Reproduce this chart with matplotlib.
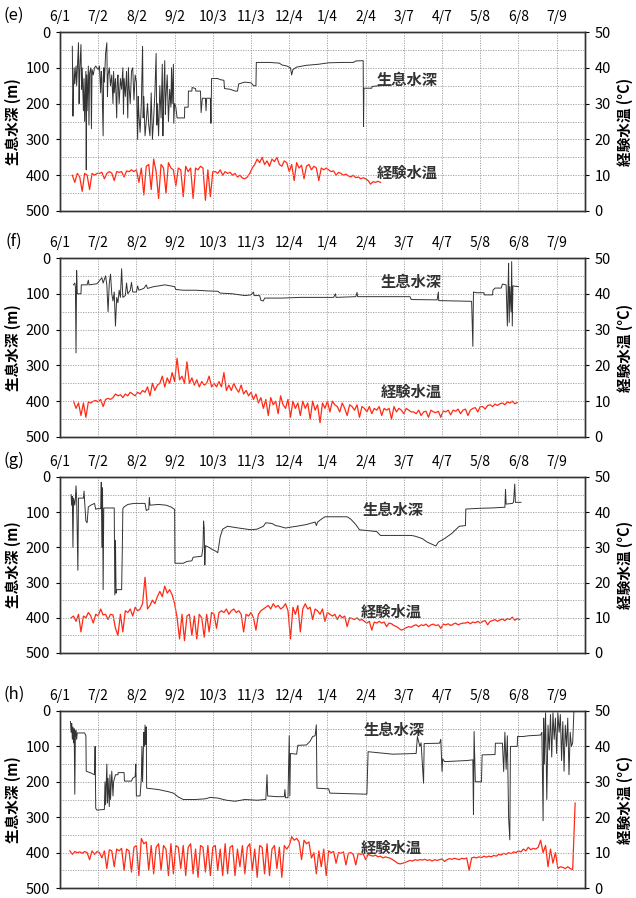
# -*- coding: utf-8 -*-
"""Habitat depth and experienced water temperature, panels (e)-(h)."""
import numpy as np
import matplotlib
matplotlib.use("Agg")
import matplotlib.pyplot as plt

plt.rcParams["font.family"] = ["Noto Sans CJK JP", "DejaVu Sans"]

# ------------------------------------------------------------
# Axis definitions (day 0 = 6/1, ticks every 31 days)
# ------------------------------------------------------------
TICK_DAYS = [0, 31, 62, 93, 124, 155, 186, 217, 248, 279, 310, 341, 372, 403]
TICK_LABELS = ["6/1", "7/2", "8/2", "9/2", "10/3", "11/3", "12/4",
               "1/4", "2/4", "3/7", "4/7", "5/8", "6/8", "7/9"]
X_MAX = 426
DEPTH_TICKS = [0, 100, 200, 300, 400, 500]
TEMP_TICKS = [0, 10, 20, 30, 40, 50]

# ------------------------------------------------------------
# (e) depth (day, m) and temperature (every 2 days from start)
# ------------------------------------------------------------
E_DEPTH = [
    (10, 40), (10.5, 235), (11, 150), (11.5, 100), (12, 145), (13, 95), (13.5, 150),
    (14, 110), (15, 30), (15.5, 200), (16, 110), (17, 35), (17.5, 160), (18, 100),
    (19, 220), (19.5, 130), (20, 250), (21, 110), (21.3, 385), (21.6, 120), (22, 220),
    (23, 95), (23.5, 260), (24, 115), (25, 100), (25.5, 270), (26, 105), (27, 120),
    (28, 100), (29, 95), (30, 100), (31, 105), (32, 95), (33, 170), (33.5, 110),
    (34, 130), (35, 290), (35.5, 100), (36, 140), (37, 60), (38, 30), (38.5, 180),
    (39, 120), (40, 100), (41, 150), (42, 120), (43, 200), (43.5, 110), (44, 170),
    (45, 130), (46, 240), (46.5, 140), (47, 120), (48, 200), (49, 130), (50, 160),
    (51, 100), (51.5, 230), (52, 130), (53, 180), (54, 110), (55, 240), (55.5, 100),
    (56, 150), (57, 200), (58, 110), (59, 100), (60, 190), (61, 120), (62, 140),
    (63, 300), (63.5, 180), (64, 230), (65, 280), (66, 200), (67, 40), (67.5, 240),
    (68, 180), (69, 290), (70, 250), (71, 200), (72, 260), (73, 290), (74, 170),
    (75, 300), (76, 240), (77, 170), (78, 60), (78.5, 260), (79, 200), (80, 290),
    (81, 150), (82, 240), (83, 90), (83.5, 290), (84, 200), (85, 80), (85.5, 230),
    (86, 180), (87, 120), (88, 250), (89, 160), (90, 210), (90.5, 100), (91, 200),
    (92, 90), (92.3, 255), (93, 200), (94, 210), (95, 240), (101, 240), (101.2, 210),
    (104, 210), (104.2, 165), (107, 165), (107.2, 155), (110, 158), (110.2, 165),
    (114, 165), (114.5, 225), (115.5, 185), (118, 185), (118.5, 220), (119, 185),
    (122, 185), (122.5, 255), (123, 130), (128, 130), (130, 133), (133, 135),
    (133.5, 158), (138, 160), (142, 165), (144, 165), (145, 145), (150, 140),
    (155, 142), (157, 150), (159, 150), (159.3, 85), (170, 85), (178, 87), (180, 92),
    (184, 95), (187, 100), (188, 120), (189, 105), (192, 98), (200, 93), (210, 90),
    (218, 86), (230, 85), (238, 85), (240, 81), (246, 80), (246.3, 264), (246.6, 157),
    (253, 157), (253.3, 152), (260, 150),
]
E_TEMP_START = 10
E_TEMP = [
    10, 8, 10.5, 9.5, 5.5, 10.5, 10, 6, 10.5, 10, 10.5,
    10.5, 10.8, 9, 10.5, 11, 10.6, 8.5, 11, 10.8, 11, 9.5, 11.2, 11, 11.5, 11,
    11.5, 8, 12, 4.5, 12.5, 13, 6, 14.5, 11, 3.5, 13, 12, 5, 13.5, 12, 11.5, 7,
    12, 11.5, 4, 12.5, 11, 12, 3.5, 12, 11.5, 12.5, 12, 3, 11.5, 4, 11,
    11, 10.5, 11.5, 10, 11, 10.5, 10.8, 10, 10.5, 9.5, 10, 9.2, 9, 9.5, 10.5,
    12, 13, 14.5, 13.5, 15, 13, 14, 12.5, 14.5, 13.8, 15, 13, 12.5, 14, 13.5, 11,
    13, 8.5, 13.5, 12, 12.8, 9, 12.5, 13, 11.5, 12.5, 12, 8.5, 12, 11.5, 12,
    11.5, 11, 11.2, 10, 10.8, 10.5, 10, 10.3, 9.8, 9.5, 10, 9.3, 9.5, 9, 9.3,
    9, 8.5, 7.5, 8.2, 8, 8.3, 8,
]

# ------------------------------------------------------------
# (f)
# ------------------------------------------------------------
F_DEPTH = [
    (11, 75), (12, 70), (12.5, 80), (13, 265), (13.5, 35), (14, 100), (17, 100),
    (17.3, 75), (22, 75), (23, 62), (23.5, 75), (30, 72), (34, 55), (35, 70), (37, 50),
    (38, 75), (39, 150), (40, 70), (41, 45), (42, 100), (43, 120), (44, 95), (45, 190),
    (46, 110), (47, 125), (48, 90), (49, 110), (50, 30), (51, 110), (53, 105), (54, 70),
    (55, 100), (57, 90), (58, 68), (59, 95), (62, 95), (63, 78), (64, 90), (68, 85),
    (70, 75), (71, 85), (76, 80), (80, 78), (85, 75), (90, 78), (93, 80), (94, 88),
    (100, 90), (110, 90), (120, 92), (128, 93), (130, 98), (140, 100), (150, 105),
    (155, 103), (157, 95), (157.5, 105), (162, 105), (163, 118), (165, 120), (166, 112),
    (180, 112), (195, 110), (222, 110), (223.5, 100), (224, 110), (240, 108), (241, 96),
    (241.5, 108), (284, 108), (285, 116), (306, 117), (307, 95), (307.3, 119), (334, 121),
    (335, 247), (335.5, 95), (338, 97), (344, 97), (344.3, 103), (351, 103), (351.3, 90),
    (353, 84), (358, 84), (359, 73), (362, 75), (363, 190), (363.5, 100), (364, 15),
    (364.5, 180), (365, 80), (366, 150), (366.5, 10), (367, 190), (367.5, 78), (372, 80),
]
F_TEMP_START = 11
F_TEMP = [
    10, 8, 9.5, 6, 9.5, 5.5, 9.8, 9.5, 10, 10.2, 9.8, 10.5, 8.5, 10.5, 10.8, 10.5, 11, 12,
    11.5, 11.8, 11, 12, 11.5, 12.5, 12, 11.5, 12.5, 12, 13, 12.5, 14, 11.5, 15, 13, 14.5,
    15, 17, 14, 16.5, 15, 18, 15.5, 22, 16, 17, 15, 21, 15, 16.5, 14.5, 16, 14, 15.5,
    14.5, 15, 17, 14,
    15, 14, 15.5, 14, 18, 13, 14.5, 13, 15, 13.5, 12.5, 14.5, 12, 13, 11.5, 12.5, 10.5, 12,
    9.5, 11, 8, 10.5, 6, 11, 9, 10, 6.5, 11.5, 9, 8, 10.5, 5.5, 10, 8, 9.5, 6,
    10, 8, 9.5, 5, 10, 7.5, 9, 4, 9.5, 8, 10, 7, 10, 9,
    8.5, 7, 9.5, 8, 6, 9, 8.5, 7.5, 9, 5.5, 8.5, 8, 7, 8.5, 6.5, 8, 7.5, 8.5, 6, 8,
    7.5, 8, 5, 8.5, 7, 8, 7.5, 6.5, 8, 7.5, 7,
    7, 6.5, 7.5, 6, 7, 7.2, 5.5, 7.5, 7, 6.8, 7.2, 5.5, 7.3, 7, 7.5, 6.2, 7.5, 7.2, 7.8,
    6.5, 7.5, 7.8, 6, 7.5, 8,
    8.2, 7, 8.5, 8.5, 7.8, 8.8, 9, 8.5, 9.2, 8.8, 9.3, 9.5, 9, 9.8, 9.5, 10, 9.3, 9.6,
]

# ------------------------------------------------------------
# (g)
# ------------------------------------------------------------
G_DEPTH = [
    (9, 50), (9.5, 80), (10, 55), (10.5, 200), (11, 60), (12, 80), (12.5, 60), (13, 25),
    (13.5, 60), (14.5, 265), (15, 60), (19, 60), (19.5, 40), (20, 70), (21, 125),
    (22, 130), (23, 85), (25, 80), (28, 75), (29, 92), (30, 90), (33, 90), (33.5, 15),
    (34, 200), (34.5, 30), (35, 320), (35.5, 88), (44, 88), (44.5, 335), (45, 180),
    (45.5, 330), (46, 320), (50, 320), (50.5, 220), (51, 90), (52, 85), (55, 78),
    (60, 75), (69, 75), (70, 95), (72, 92), (72.5, 58), (73, 80), (80, 78), (86, 80),
    (90, 85), (93, 92), (93.3, 245), (100, 245), (103, 240), (107, 238), (108, 228),
    (115, 225), (116, 200), (116.5, 125), (117, 145), (117.5, 250), (118, 195),
    (121, 200), (123, 205), (126, 210), (128, 215), (130, 170), (132, 148), (136, 140),
    (145, 145), (155, 150), (160, 148), (165, 140), (167, 130), (172, 132), (175, 138),
    (178, 140), (183, 145), (188, 142), (192, 140), (200, 135), (205, 130), (207, 128),
    (208, 138), (209, 128), (212, 120), (215, 113), (233, 113), (236, 120), (240, 135),
    (243, 150), (257, 155), (260, 166), (285, 166), (288, 168), (294, 175), (298, 185),
    (305, 196), (307, 185), (312, 175), (318, 160), (324, 140), (329, 138), (329.3, 91),
    (340, 89), (350, 88), (361, 86), (361.5, 35), (362, 77), (367, 75), (368, 72),
    (369, 20), (369.5, 72), (374, 72),
]
G_TEMP_START = 9
G_TEMP = [
    10, 10.5, 9, 11, 6, 10.5, 10, 11.5, 10.5, 8.5, 11, 10.5, 12.5, 10.8, 11, 9.5, 11,
    10.8, 7,
    5, 11, 6, 12, 11.5, 12.5, 10.5, 13, 12, 12.5, 14, 21.5, 12.5, 13.5, 15, 14, 16, 17.5,
    16, 19, 17, 18, 16.5, 14,
    10, 4, 11, 3.5, 10.5, 11, 5, 10.5, 4, 11, 10, 4.5, 11, 6, 11.5, 11, 7, 11.5,
    12, 11.5, 12.5, 11, 12, 12.5, 11.5, 12, 11, 6, 11, 10.5, 11.5, 10, 6.5, 11, 12, 12.5,
    13, 13.5, 12.5, 14, 13, 13.5, 12.5, 13, 14, 12, 4, 13, 11, 13.5, 6, 12.5, 14,
    12.5, 13, 9.5, 12.5, 12, 11, 12.5, 9, 11.5, 11, 10.5, 11, 9.5, 10.8, 10, 10.5, 7.5,
    10, 9.8, 9.5, 10, 9.3,
    9.5, 9, 8.5, 9, 6.5, 8.8, 8.5, 9, 8.5, 8.8, 7.5, 8.5, 8.3, 7.8, 7.5, 7, 6.5, 6.8,
    7.2, 7.5, 7.3,
    7.8, 8, 7.5, 8, 7.8, 8.2, 7.5, 8, 8.2, 7.8, 8, 7, 8.2, 8, 8.3, 7.8, 8.2, 8.5, 8,
    8.3, 8.5,
    8.5, 8.8, 8.3, 8.8, 8.6, 9, 8.5, 9, 9.2, 8, 9, 9.2, 9.5, 9, 9.4, 9.6, 9.2, 9.8, 9.5,
    10.2, 9.3, 9.8, 9.5,
]

# ------------------------------------------------------------
# (h)
# ------------------------------------------------------------
H_DEPTH = [
    (8.5, 30), (9, 60), (9.5, 35), (10, 80), (10.5, 45), (11, 90), (11.5, 50), (12, 235),
    (12.5, 60), (13, 55), (13.5, 80), (14, 62), (20, 62), (21, 70), (21.3, 170),
    (25, 175), (28, 180), (28.5, 100), (29, 275), (30, 280), (36, 278), (36.5, 200),
    (37, 265), (38, 150), (38.5, 260), (39, 190), (40, 270), (40.5, 180), (41, 250),
    (42, 170), (43, 240), (43.5, 200), (45, 180), (47, 180), (47.2, 174), (52, 174),
    (52.3, 198), (58, 198), (59, 190), (61, 185), (61.5, 150), (62, 240), (65, 240),
    (66, 190), (66.5, 100), (67, 200), (68, 60), (68.5, 100), (69, 40), (69.5, 95),
    (70, 45), (70.3, 218), (80, 222), (88, 228), (92, 232), (96, 243), (100, 250),
    (110, 250), (118, 248), (122, 244), (128, 246), (135, 252), (142, 255), (150, 250),
    (160, 252), (167, 250), (168, 180), (168.5, 240), (176, 242), (182, 242),
    (182.5, 222), (183, 245), (185, 245), (186, 70), (186.5, 240), (187, 120), (192, 122),
    (193, 97), (200, 96), (203, 85), (205, 72), (207, 70), (208, 39), (208.5, 218),
    (218, 220), (219, 232), (249, 235), (250, 115), (270, 122), (289, 120), (290, 72),
    (292, 100), (293, 90), (295, 204), (295.5, 92), (308, 91), (309, 80), (310, 171),
    (310.5, 135), (312, 143), (330, 140), (335, 138), (335.5, 293), (336, 58), (337, 200),
    (342, 200), (342.5, 124), (353, 123), (353.3, 91), (359, 91), (360, 171), (361, 60),
    (362, 165), (363, 70), (364, 300), (365, 364), (365.5, 100), (367, 100), (371, 100),
    (371.3, 72), (376, 72), (380, 70), (390, 68), (391, 60), (392, 310), (392.5, 20),
    (393, 150), (394, 5), (395, 250), (396, 40), (397, 110), (398, 10), (399, 130),
    (400, 5), (401, 80), (402, 20), (403, 120), (404, 5), (405, 60), (406, 10),
    (407, 140), (408, 30), (409, 170), (410, 40), (411, 100), (412, 20), (413, 180),
    (414, 60), (415, 100), (416, 90), (417, 0),
]
H_TEMP_START = 8
H_TEMP = [
    10.5, 9.5, 10.3, 10, 10.2, 9.8, 10.3, 10, 8, 10.5, 9.5, 10.3,
    10, 8.5, 10.5, 5.5, 10.8, 10.5, 6, 11, 10.5, 11.2, 5, 11, 10.5, 4.5, 11.5, 12, 3.5,
    14, 12.5, 13, 5, 12, 4, 11.5, 12.5, 5, 12,
    11, 3.5, 12.5, 4, 12, 11.5, 5.5, 12, 3.5, 11.5,
    12.5, 4, 11, 3, 12, 11.5, 4.5, 12, 3.5, 11.5,
    12, 5, 11, 3.5, 12.5, 4, 11.5, 12, 3.5, 11,
    6, 12, 4, 11.5, 12.5, 5, 11, 3, 12, 11.5,
    4, 12.5, 3.5, 11, 12, 5.5, 11.5, 3, 12, 11, 12,
    14.5, 13.5, 14, 13, 8, 13.5, 12.5, 13, 8.5,
    10, 4, 10.5, 6, 11, 3.5, 10.5,
    10, 10.3, 7, 10, 9.8, 10.2, 6.5, 9.8, 10, 9.5, 6.5, 9.8, 9.5, 9.7, 8,
    9.5, 9.2, 9, 9.3, 8.8, 9, 8.5, 8.8, 8.6, 8.4, 8, 7.5, 7,
    6.8, 7, 7.2, 7.5, 7.8, 7.6, 8, 7.8, 8, 7.9, 8.1, 7.8, 8, 7.6, 8, 7.8, 8, 8.2, 7.5, 8,
    8.3, 8.1, 8.4, 8.2, 8, 8.4, 8.2, 8.5, 5, 8.5,
    8.7, 8.5, 8.8, 8.6, 9, 8.7, 9, 8.8, 9.2, 9,
    9.5, 9.3, 9.8, 9.5, 10, 9.7, 10.2, 10, 10.5, 10.2, 11, 10.5, 11.5, 10.8, 11.2, 11, 11.5,
    13.5, 10, 12, 6, 11, 7, 10, 5.5, 6, 5.8, 5.5, 6, 5.5, 5.2, 24,
]

PANELS = [
    ("(e)", E_DEPTH, E_TEMP_START, E_TEMP),
    ("(f)", F_DEPTH, F_TEMP_START, F_TEMP),
    ("(g)", G_DEPTH, G_TEMP_START, G_TEMP),
    ("(h)", H_DEPTH, H_TEMP_START, H_TEMP),
]

# label positions inside each panel: (day, depth) for 生息水深 and 経験水温
LABEL_POS = [
    ((282, 134), (282, 394)),
    ((285, 67), (285, 374)),
    ((270, 94), (269, 383)),
    ((271, 54), (269, 387)),
]

# axes rectangles in figure pixels (top, bottom)
PANEL_PX = [(32, 211), (258, 437), (477, 653), (711, 888)]
FIG_W, FIG_H = 636, 898
AX_LEFT, AX_RIGHT = 60, 585

DEPTH_COLOR = "#333333"
TEMP_COLOR = "#ff2a14"
GRID_COLOR = "#9a9a9a"

fig = plt.figure(figsize=(FIG_W / 100, FIG_H / 100), dpi=100)

for (tag, depth, t_start, temps), (top, bot), (pos_d, pos_t) in zip(PANELS, PANEL_PX, LABEL_POS):
    rect = [AX_LEFT / FIG_W, 1 - bot / FIG_H, (AX_RIGHT - AX_LEFT) / FIG_W, (bot - top) / FIG_H]
    ax = fig.add_axes(rect)
    ax2 = ax.twinx()
    ax.set_zorder(ax2.get_zorder() + 1)
    ax.patch.set_visible(False)

    d_day, d_val = zip(*depth)
    t_day = np.arange(len(temps)) * 2 + t_start
    ax2.plot(t_day, temps, color=TEMP_COLOR, lw=0.9)
    ax.plot(d_day, d_val, color=DEPTH_COLOR, lw=0.7)

    ax.set_xlim(0, X_MAX)
    ax.set_ylim(500, 0)
    ax2.set_ylim(0, 50)

    ax.set_xticks(TICK_DAYS)
    ax.set_xticklabels(TICK_LABELS)
    ax.xaxis.tick_top()
    ax.tick_params(axis="x", length=0, pad=6, labelsize=10)
    ax.set_yticks(DEPTH_TICKS)
    ax.set_yticks(np.arange(50, 500, 100), minor=True)
    ax.tick_params(axis="y", which="major", length=3, labelsize=10.5, pad=4)
    ax.tick_params(axis="y", which="minor", length=0)
    ax2.set_yticks(TEMP_TICKS)
    ax2.tick_params(axis="y", length=3, labelsize=10.5, pad=4)

    ax.grid(True, which="both", color=GRID_COLOR, lw=0.6, ls=(0, (1.5, 1.5)))
    for a in (ax, ax2):
        for sp in a.spines.values():
            sp.set_color("#333333")
            sp.set_linewidth(1.0)

    ax.set_ylabel("生息水深 (m)", fontsize=10.5, fontweight="bold", labelpad=3)
    ax2.set_ylabel("経験水温 (°C)", fontsize=10.5, fontweight="bold", labelpad=4)

    ax.text(pos_d[0], pos_d[1], "生息水深", fontsize=11, fontweight="bold",
            color="#333333", ha="center", va="center")
    ax.text(pos_t[0], pos_t[1], "経験水温", fontsize=11, fontweight="bold",
            color="#333333", ha="center", va="center")

    fig.text(14 / FIG_W, 1 - (top - 17) / FIG_H, tag, fontsize=12,
             ha="center", va="center")

fig.savefig("out.png", dpi=100)
